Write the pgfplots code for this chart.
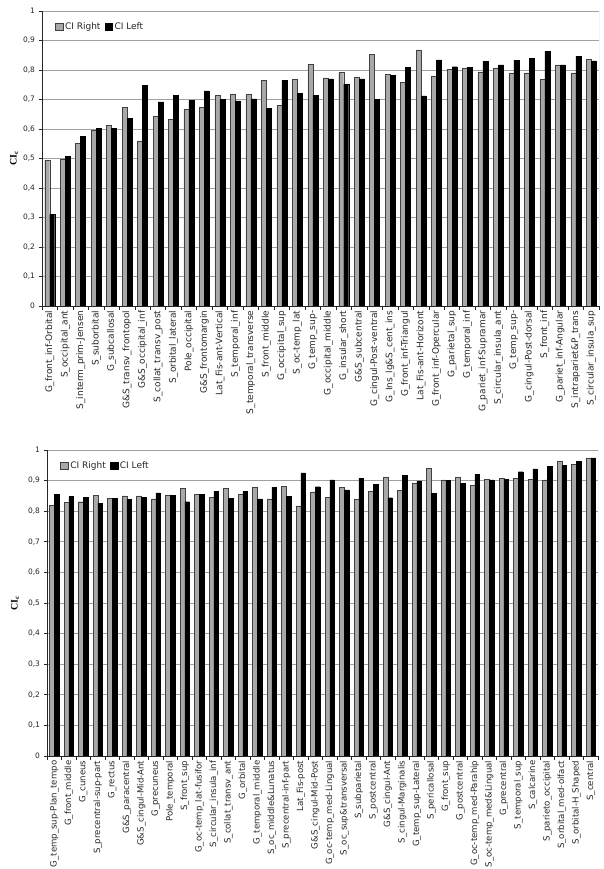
\documentclass[border=0pt]{standalone}
\usepackage{pgfplots}
\pgfplotsset{compat=1.18}
\usepackage{fontspec}
\setmainfont{DejaVu Sans}
\newfontfamily\labelserif{Liberation Serif}
\definecolor{barGray}{HTML}{A8A8A8}
\definecolor{gridGray}{HTML}{A0A0A0}

\pgfplotsset{
  cistyle/.style={
    scale only axis,
    ybar=0pt,
    ymin=0, ymax=1,
    ytick={0,0.1,0.2,0.3,0.4,0.5,0.6,0.7,0.8,0.9,1},
    /pgf/number format/use comma,
    /pgf/number format/fixed,
    /pgf/number format/precision=1,
    /pgf/number format/assume math mode=true,
    yticklabel style={font=\fontsize{7.5}{9}\selectfont, text=black!85},
    ymajorgrids,
    grid style={gridGray, line width=0.7pt},
    axis x line*=bottom, axis y line*=left,
    axis line style={-, black!85, line width=0.7pt},
    tick align=outside,
    xtick pos=bottom, ytick pos=left,
    major tick length=3.5pt, minor tick length=4pt,
    major x tick style={draw=none},
    minor tick style={black!85, line width=0.6pt},
    ytick style={black!85, line width=0.6pt},
    xticklabel style={rotate=90, anchor=east, text=black!85, inner sep=1pt},
    ylabel={\labelserif\bfseries CI\textsubscript{c}},
    ylabel style={font=\fontsize{12.5}{13}\selectfont},
    legend style={draw=none, fill=none, inner sep=0pt, anchor=north west,
      font=\fontsize{9}{10}\selectfont, text=black!85, legend columns=2,
      /tikz/every even column/.append style={column sep=2pt},
      cells={anchor=west}},
    legend image code/.code={\draw[#1, line width=0.4pt] (0pt,-3.8pt) rectangle (7.6pt,3.8pt);},
  },
  barR/.style={fill=barGray, draw=black!75, line width=0.4pt},
  barL/.style={fill=black, draw=black, line width=0.4pt},
}

\begin{document}
\begin{tikzpicture}[x=1pt,y=1pt]
\path[use as bounding box] (0,0) rectangle (603,869);

% ---------------- top panel ----------------
\begin{axis}[cistyle,
  at={(42pt,563pt)}, anchor=south west,
  width=557pt, height=295pt,
  xmin=0.5, xmax=36.5,
  bar width=5pt,
  xtick={1,2,...,36},
  minor xtick={0.5,1.5,...,36.5},
  xticklabel style={font=\fontsize{9}{10}\selectfont},
  every axis y label/.style={at={(axis description cs:0,0.5)}, xshift=-28pt, rotate=90, anchor=center},
  legend style={at={(axis description cs:0.023,0.968)}},
  xticklabels={G\_front\_inf-Orbital, S\_occipital\_ant, S\_interm\_prim-Jensen, S\_suborbital, G\_subcallosal, G\&S\_transv\_frontopol, G\&S\_occipital\_inf, S\_collat\_transv\_post, S\_orbital\_lateral, Pole\_occipital, G\&S\_frontomargin, Lat\_Fis-ant-Vertical, S\_temporal\_inf, S\_temporal\_transverse, S\_front\_middle, G\_occipital\_sup, S\_oc-temp\_lat, G\_temp\_sup-, G\_occipital\_middle, G\_insular\_short, G\&S\_subcentral, G\_cingul-Post-ventral, G\_Ins\_lg\&S\_cent\_ins, G\_front\_inf-Triangul, Lat\_Fis-ant-Horizont, G\_front\_inf-Opercular, G\_parietal\_sup, G\_temporal\_inf, G\_pariet\_inf-Supramar, S\_circular\_insula\_ant, G\_temp\_sup-, G\_cingul-Post-dorsal, S\_front\_inf, G\_pariet\_inf-Angular, S\_intrapariet\&P\_trans, S\_circular\_insula\_sup},
]
\addplot[barR] coordinates {
(1,0.494) (2,0.498) (3,0.551) (4,0.596) (5,0.613) (6,0.674) (7,0.560) (8,0.644) (9,0.633)
(10,0.667) (11,0.674) (12,0.713) (13,0.719) (14,0.718) (15,0.766) (16,0.681) (17,0.769) (18,0.820)
(19,0.773) (20,0.791) (21,0.776) (22,0.854) (23,0.786) (24,0.759) (25,0.868) (26,0.778) (27,0.801)
(28,0.807) (29,0.794) (30,0.807) (31,0.790) (32,0.790) (33,0.769) (34,0.817) (35,0.790) (36,0.836)
};
\addplot[barL] coordinates {
(1,0.311) (2,0.508) (3,0.576) (4,0.603) (5,0.603) (6,0.635) (7,0.749) (8,0.692) (9,0.715)
(10,0.696) (11,0.729) (12,0.700) (13,0.695) (14,0.702) (15,0.669) (16,0.765) (17,0.721) (18,0.714)
(19,0.770) (20,0.752) (21,0.770) (22,0.701) (23,0.781) (24,0.809) (25,0.712) (26,0.834) (27,0.811)
(28,0.809) (29,0.829) (30,0.817) (31,0.833) (32,0.840) (33,0.863) (34,0.817) (35,0.847) (36,0.831)
};
\legend{CI Right, CI Left}
\draw[gridGray, line width=0.7pt] (rel axis cs:1,0) -- (rel axis cs:1,1);
\end{axis}

% ---------------- bottom panel ----------------
\begin{axis}[cistyle,
  at={(47pt,113pt)}, anchor=south west,
  width=551pt, height=306pt,
  xmin=0.5, xmax=38.5,
  bar width=4.6pt,
  xtick={1,2,...,38},
  minor xtick={0.5,1.5,...,38.5},
  xticklabel style={font=\fontsize{8.6}{10}\selectfont},
  every axis y label/.style={at={(axis description cs:0,0.5)}, xshift=-32pt, rotate=90, anchor=center},
  legend style={at={(axis description cs:0.024,0.97)}},
  xticklabels={G\_temp\_sup-Plan\_tempo, G\_front\_middle, G\_cuneus, S\_precentral-sup-part, G\_rectus, G\&S\_paracentral, G\&S\_cingul-Mid-Ant, G\_precuneus, Pole\_temporal, S\_front\_sup, G\_oc-temp\_lat-fusifor, S\_circular\_insula\_inf, S\_collat\_transv\_ant, G\_orbital, G\_temporal\_middle, S\_oc\_middle\&Lunatus, S\_precentral-inf-part, Lat\_Fis-post, G\&S\_cingul-Mid-Post, G\_oc-temp\_med-Lingual, S\_oc\_sup\&transversal, S\_subparietal, S\_postcentral, G\&S\_cingul-Ant, S\_cingul-Marginalis, G\_temp\_sup-Lateral, S\_pericallosal, G\_front\_sup, G\_postcentral, G\_oc-temp\_med-Parahip, S\_oc-temp\_med\&Lingual, G\_precentral, S\_temporal\_sup, S\_calcarine, S\_parieto\_occipital, S\_orbital\_med-olfact, S\_orbital-H\_Shaped, S\_central},
]
\addplot[barR] coordinates {
(1,0.819) (2,0.830) (3,0.831) (4,0.852) (5,0.843) (6,0.850) (7,0.850) (8,0.840) (9,0.853)
(10,0.875) (11,0.855) (12,0.845) (13,0.875) (14,0.855) (15,0.878) (16,0.840) (17,0.882) (18,0.817)
(19,0.863) (20,0.845) (21,0.877) (22,0.839) (23,0.865) (24,0.911) (25,0.868) (26,0.891) (27,0.939)
(28,0.902) (29,0.911) (30,0.885) (31,0.903) (32,0.907) (33,0.907) (34,0.905) (35,0.902) (36,0.962)
(37,0.954) (38,0.974)
};
\addplot[barL] coordinates {
(1,0.854) (2,0.848) (3,0.846) (4,0.826) (5,0.843) (6,0.839) (7,0.846) (8,0.860) (9,0.851)
(10,0.831) (11,0.855) (12,0.865) (13,0.841) (14,0.864) (15,0.840) (16,0.879) (17,0.848) (18,0.925)
(19,0.880) (20,0.902) (21,0.870) (22,0.908) (23,0.887) (24,0.844) (25,0.917) (26,0.899) (27,0.859)
(28,0.901) (29,0.892) (30,0.920) (31,0.902) (32,0.905) (33,0.929) (34,0.938) (35,0.946) (36,0.950)
(37,0.963) (38,0.974)
};
\legend{CI Right, CI Left}
\draw[gridGray, line width=0.7pt] (rel axis cs:1,0) -- (rel axis cs:1,1);
\end{axis}
\end{tikzpicture}
\end{document}
